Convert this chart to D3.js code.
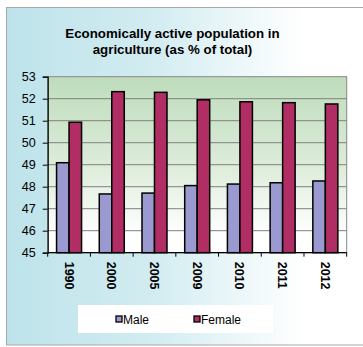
<!DOCTYPE html>
<html><head><meta charset="utf-8">
<script src="https://cdn.jsdelivr.net/npm/d3@7"></script>
<style>body{margin:0;background:#fff}svg{display:block}</style>
</head><body>
<script>
const categories = ["1990","2000","2005","2009","2010","2011","2012"];
const male = [49.09, 47.67, 47.71, 48.05, 48.12, 48.18, 48.26];
const female = [50.93, 52.32, 52.29, 51.95, 51.86, 51.82, 51.76];
const seriesNames = ["Male","Female"];
const yTicks = [45,46,47,48,49,50,51,52,53];
const colors = ["#9a9ad0","#b02e63"];

const W = 363, H = 347;
const FONT = "Liberation Sans, Arial, sans-serif";
const svg = d3.select("body").append("svg").attr("width", W).attr("height", H);
const defs = svg.append("defs");
const bg = defs.append("linearGradient").attr("id","bg").attr("x1","0").attr("x2","1").attr("y1","0").attr("y2","0");
bg.append("stop").attr("offset","0").attr("stop-color","#bde3ea");
bg.append("stop").attr("offset","0.4").attr("stop-color","#d2ecf1");
bg.append("stop").attr("offset","0.82").attr("stop-color","#ffffff");
bg.append("stop").attr("offset","1").attr("stop-color","#ffffff");
const pg = defs.append("linearGradient").attr("id","pg").attr("x1","0").attr("x2","0").attr("y1","0").attr("y2","1");
pg.append("stop").attr("offset","0").attr("stop-color","#bedcbc");
pg.append("stop").attr("offset","0.5").attr("stop-color","#dcecd9");
pg.append("stop").attr("offset","0.9").attr("stop-color","#ffffff");
pg.append("stop").attr("offset","1").attr("stop-color","#ffffff");

svg.append("rect").attr("x",6.5).attr("y",7.5).attr("width",W).attr("height",337.5)
  .attr("fill","url(#bg)").attr("stroke","#a8a8a8").attr("stroke-width",1);

svg.append("text").attr("x",172.5).attr("y",38).attr("text-anchor","middle")
  .attr("font-family",FONT).attr("font-weight","bold").attr("font-size",13.3)
  .text("Economically active population in");
svg.append("text").attr("x",172.5).attr("y",54).attr("text-anchor","middle")
  .attr("font-family",FONT).attr("font-weight","bold").attr("font-size",13.3)
  .text("agriculture (as % of total)");

const L = 47.7, R = 346.7, T = 76.7, B = 252.7;
const x = d3.scaleBand().domain(categories).range([L,R]).paddingInner(0).paddingOuter(0);
const x1 = d3.scaleBand().domain(seriesNames).range([0,25]);
const y = d3.scaleLinear().domain([45,53]).range([B,T]);

svg.append("rect").attr("x",L).attr("y",T).attr("width",R-L).attr("height",B-T)
  .attr("fill","url(#pg)").attr("stroke","#888").attr("stroke-width",1);

svg.append("g").selectAll("line").data(yTicks.slice(1,-1)).join("line")
  .attr("x1",L).attr("x2",R).attr("y1",d=>y(d)).attr("y2",d=>y(d))
  .attr("stroke","#808080").attr("stroke-width",1);

const groups = svg.append("g").selectAll("g").data(categories).join("g")
  .attr("transform",d=>`translate(${x(d)+x.bandwidth()/2-12.5},0)`);
groups.selectAll("rect").data((d,i)=>[{s:"Male",v:male[i]},{s:"Female",v:female[i]}]).join("rect")
  .attr("x",d=>x1(d.s)).attr("width",x1.bandwidth())
  .attr("y",d=>y(d.v)).attr("height",d=>B-y(d.v))
  .attr("fill",(d,i)=>colors[i]).attr("stroke","#000").attr("stroke-width",1.5);

const yAxis = svg.append("g").attr("transform",`translate(${L},0)`)
  .call(d3.axisLeft(y).tickValues(yTicks).tickSize(5).tickPadding(7).tickFormat(d3.format("d")));
yAxis.select(".domain").attr("stroke","#000").attr("stroke-width",1.2);
yAxis.selectAll(".tick line").attr("stroke","#000");
yAxis.selectAll("text").attr("font-family",FONT).attr("font-size",12.6).attr("fill","#000");

const xAxis = svg.append("g").attr("transform",`translate(0,${B})`);
xAxis.append("line").attr("x1",L).attr("x2",R).attr("y1",0).attr("y2",0).attr("stroke","#000").attr("stroke-width",1.2);
const bounds = categories.map(c=>x(c)).concat([R]);
xAxis.selectAll("line.tk").data(bounds).join("line").attr("class","tk")
  .attr("x1",d=>d).attr("x2",d=>d).attr("y1",0).attr("y2",4).attr("stroke","#000");
xAxis.selectAll("text").data(categories).join("text")
  .attr("transform",d=>`translate(${x(d)+x.bandwidth()/2-4.5},${9}) rotate(90)`)
  .attr("font-family",FONT).attr("font-weight","bold").attr("font-size",12.5)
  .attr("text-anchor","start")
  .text(d=>d);

const lg = svg.append("g");
lg.append("rect").attr("x",78).attr("y",305).attr("width",195).attr("height",28).attr("fill","#fff");
const items = lg.selectAll("g").data(seriesNames).join("g")
  .attr("transform",(d,i)=>`translate(${i===0?116:194},320)`);
items.append("rect").attr("x",0).attr("y",-4).attr("width",6).attr("height",6)
  .attr("fill",(d,i)=>colors[i]).attr("stroke","#000").attr("stroke-width",1.3);
items.append("text").attr("x",7).attr("y",4).attr("font-family",FONT)
  .attr("font-size",12).text(d=>d);
</script>
</body></html>
